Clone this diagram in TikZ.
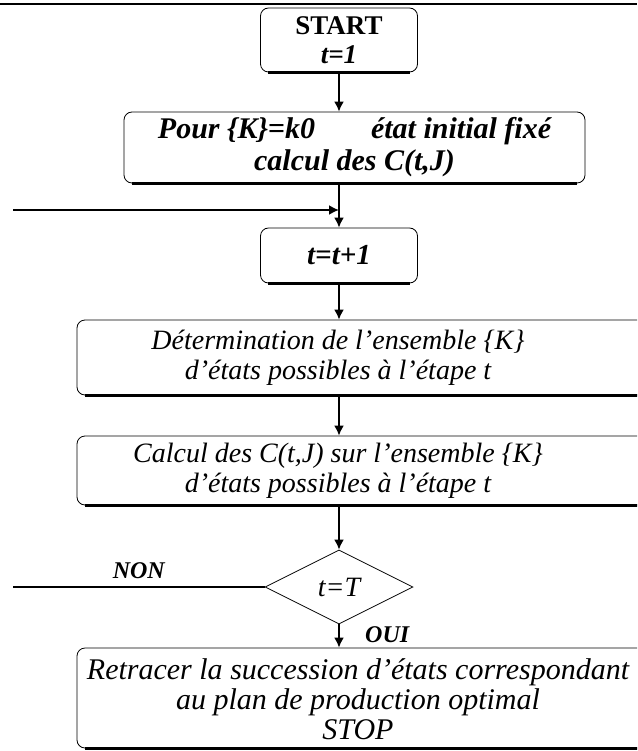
\documentclass[tikz,border=0pt]{standalone}
\usepackage{fontspec}
\setmainfont{Liberation Serif}
\usetikzlibrary{arrows.meta}
\usetikzlibrary{shapes.geometric}
\tikzset{%
    box/.style={draw,line width=0.8pt,rounded corners=8pt,inner sep=0pt,align=center},
    txt/.style={align=center,inner sep=0pt,font=\fontsize{28}{30}\selectfont\itshape},
    flow/.style={->,>={Latex[length=10pt,width=10pt]},line width=1.8pt},
    test/.style={draw,shape=diamond,line width=0.8pt,inner sep=0pt,minimum width=148pt,minimum height=74pt},
}

\begin{document}
\begin{tikzpicture}[x=1pt,y=-1pt]
	
	\clip (0,0) rectangle (637,751);
	
	%top rule
	\draw[line width=2.5pt] (0,4) -- (637,4);
	%%%%%%%%%%%%%%%%%%%
	
	\node[box,minimum width=157pt,minimum height=64pt,font=\fontsize{27}{29}\selectfont] (start) at (339,40)
		{\textbf{START}\\\textbf{\textit{t=1}}};
	\node[box,minimum width=461pt,minimum height=71pt,font=\fontsize{30}{32}\selectfont\bfseries\itshape] (init) at (354.5,147.5)
		{Pour \{K\}=k0\hspace{56pt}état initial fixé\\calcul des C(t,J)};
	\node[box,minimum width=157pt,minimum height=55pt,font=\fontsize{29}{30}\selectfont\bfseries\itshape] (tplus) at (339,255.5) {t=t+1};
	
	\node[box,minimum width=583pt,minimum height=75pt] (det) at (368.5,357.5) {};
	\node[txt] (dettxt) at (338,358) {Détermination de l'ensemble \{K\}\\d'états possibles à l'étape t};
	
	\node[box,minimum width=583pt,minimum height=69pt] (calc) at (368.5,470.5) {};
	\node[txt] (calctxt) at (338,471) {Calcul des C(t,J) sur l'ensemble \{K\}\\d'états possibles à l'étape t};
	
	\node[test,font=\fontsize{28}{30}\selectfont\itshape] (tT) at (339,587) {t=T};
	
	\node[box,minimum width=583pt,minimum height=100pt] (final) at (368.5,698) {};
	\node[txt,font=\fontsize{30}{30}\selectfont\itshape] (finaltxt) at (358,699) {Retracer la succession d'états correspondant\\au plan de production optimal\\STOP};
	
	%heavier bottom edges
	\foreach \n in {start,init,tplus,det,calc,final}
		\draw[line width=2.5pt] ([xshift=8pt]\n.south west) -- ([xshift=-8pt]\n.south east);
	
	\draw[flow] (start) -- (start |- init.north);
	\draw[flow] (tplus |- init.south) -- (tplus);
	\draw[flow] (tplus) -- (tplus |- det.north);
	\draw[flow] (tplus |- det.south) -- (tplus |- calc.north);
	\draw[flow] (tT |- calc.south) -- (tT);
	\draw[flow] (tT) -- (tT |- final.north) node[right=22pt,pos=0.45,font=\fontsize{24}{26}\selectfont\bfseries\itshape] {OUI};
	
	%loop back
	\coordinate (loopin) at (13,210);
	\coordinate (nonend) at (13,587);
	\draw[flow] (loopin) -- (loopin -| tplus);
	\draw[line width=2.5pt] (tT.west) -- (nonend) node[midway,above=4pt,font=\fontsize{24}{26}\selectfont\bfseries\itshape] {NON};
	
\end{tikzpicture}
\end{document}
